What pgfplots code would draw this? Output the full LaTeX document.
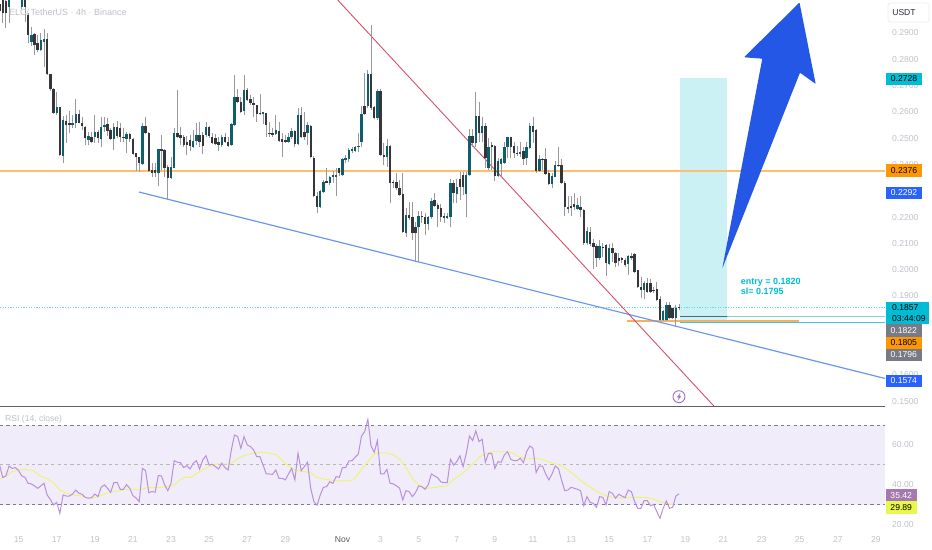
\documentclass[border=0pt]{standalone}
\usepackage{pgfplots}
\usepackage{pgfplotstable}
\usepackage{fontspec}
\setmainfont{Liberation Sans}
\pgfplotsset{compat=1.18}
\definecolor{tvup}{HTML}{0F5E6E}
\definecolor{tvdn}{HTML}{36363A}
\definecolor{tvwick}{HTML}{98989E}
\definecolor{tvgray}{HTML}{BFC1C9}
\definecolor{tvorange}{HTML}{FFBE6A}
\definecolor{tvblue}{HTML}{6A95F5}
\definecolor{tvred}{HTML}{D4506A}
\definecolor{tvbox}{HTML}{CBF1F4}
\definecolor{tvcyan}{HTML}{00BCD4}
\definecolor{tvrsi}{HTML}{B890DC}
\definecolor{tvma}{HTML}{EEF56A}
\definecolor{tvband}{HTML}{F0ECF9}
\definecolor{lineA}{HTML}{80D4D4}
\definecolor{lineB}{HTML}{4A6A80}
\definecolor{lineC}{HTML}{40C8E0}
\definecolor{lineD}{HTML}{F5B060}
\definecolor{sepc}{HTML}{5F5F66}
\definecolor{arrowc}{HTML}{2457E6}
\definecolor{headc}{HTML}{BDBFC8}
\definecolor{iconc}{HTML}{9B6FC0}
\definecolor{btnb}{HTML}{EBECEF}
\definecolor{btnt}{HTML}{2A2E39}
\definecolor{tagcy}{HTML}{00BCD4}
\definecolor{tagor}{HTML}{FF9800}
\definecolor{tagbl}{HTML}{2962FF}
\definecolor{taggr}{HTML}{787B86}
\definecolor{tagpu}{HTML}{A578AF}
\definecolor{tagye}{HTML}{E8F74A}
\pgfplotstableread{
i o h l c
0 0.3010 0.3040 0.2950 0.2985
1 0.3026 0.3050 0.2937 0.2975
2 0.3020 0.3040 0.2918 0.2975
3 0.3000 0.3050 0.2937 0.3040
4 0.3080 0.3100 0.3040 0.3060
5 0.3060 0.3090 0.3040 0.3050
6 0.3050 0.3090 0.3035 0.3070
7 0.2998 0.3060 0.2990 0.3040
8 0.3040 0.3060 0.2943 0.2999
9 0.2968 0.2975 0.2861 0.2892
10 0.2867 0.2924 0.2851 0.2892
11 0.2895 0.2900 0.2816 0.2854
12 0.2861 0.2892 0.2829 0.2835
13 0.2835 0.2899 0.2833 0.2873
14 0.2867 0.2914 0.2772 0.2876
15 0.2876 0.2899 0.2740 0.2744
16 0.2744 0.2744 0.2681 0.2686
17 0.2686 0.2690 0.2592 0.2595
18 0.2597 0.2677 0.2588 0.2617
19 0.2617 0.2620 0.2432 0.2436
20 0.2432 0.2584 0.2407 0.2569
21 0.2567 0.2588 0.2483 0.2550
22 0.2557 0.2605 0.2519 0.2550
23 0.2550 0.2588 0.2538 0.2559
24 0.2559 0.2648 0.2538 0.2591
25 0.2591 0.2607 0.2557 0.2559
26 0.2559 0.2582 0.2531 0.2546
27 0.2544 0.2546 0.2474 0.2500
28 0.2493 0.2525 0.2474 0.2508
29 0.2506 0.2525 0.2480 0.2487
30 0.2503 0.2588 0.2480 0.2522
31 0.2525 0.2531 0.2483 0.2500
32 0.2496 0.2579 0.2465 0.2541
33 0.2541 0.2579 0.2525 0.2550
34 0.2553 0.2576 0.2508 0.2529
35 0.2531 0.2538 0.2493 0.2496
36 0.2496 0.2557 0.2455 0.2544
37 0.2544 0.2567 0.2500 0.2508
38 0.2538 0.2557 0.2487 0.2506
39 0.2506 0.2538 0.2487 0.2500
40 0.2496 0.2525 0.2443 0.2516
41 0.2516 0.2519 0.2487 0.2496
42 0.2496 0.2500 0.2436 0.2440
43 0.2443 0.2445 0.2377 0.2427
44 0.2427 0.2430 0.2373 0.2405
45 0.2402 0.2557 0.2399 0.2546
46 0.2546 0.2579 0.2516 0.2519
47 0.2519 0.2522 0.2373 0.2377
48 0.2379 0.2404 0.2354 0.2369
49 0.2379 0.2405 0.2354 0.2369
50 0.2369 0.2460 0.2318 0.2458
51 0.2458 0.2512 0.2379 0.2453
52 0.2455 0.2458 0.2354 0.2385
53 0.2389 0.2398 0.2265 0.2347
54 0.2347 0.2430 0.2344 0.2389
55 0.2388 0.2538 0.2385 0.2519
56 0.2519 0.2683 0.2500 0.2503
57 0.2512 0.2544 0.2474 0.2500
58 0.2506 0.2512 0.2468 0.2474
59 0.2487 0.2508 0.2436 0.2474
60 0.2493 0.2512 0.2453 0.2470
61 0.2468 0.2531 0.2462 0.2491
62 0.2491 0.2559 0.2474 0.2512
63 0.2512 0.2563 0.2468 0.2487
64 0.2512 0.2525 0.2440 0.2470
65 0.2512 0.2563 0.2506 0.2544
66 0.2544 0.2546 0.2500 0.2508
67 0.2506 0.2519 0.2478 0.2483
68 0.2500 0.2516 0.2474 0.2478
69 0.2487 0.2506 0.2453 0.2474
70 0.2474 0.2512 0.2468 0.2503
71 0.2503 0.2521 0.2481 0.2487
72 0.2487 0.2506 0.2468 0.2470
73 0.2474 0.2559 0.2470 0.2554
74 0.2550 0.2739 0.2546 0.2655
75 0.2655 0.2686 0.2635 0.2639
76 0.2639 0.2658 0.2597 0.2601
77 0.2603 0.2740 0.2588 0.2683
78 0.2683 0.2690 0.2643 0.2645
79 0.2648 0.2664 0.2626 0.2635
80 0.2635 0.2658 0.2582 0.2626
81 0.2625 0.2628 0.2563 0.2592
82 0.2597 0.2668 0.2588 0.2591
83 0.2591 0.2601 0.2553 0.2601
84 0.2595 0.2597 0.2506 0.2550
85 0.2519 0.2563 0.2506 0.2515
86 0.2519 0.2538 0.2506 0.2512
87 0.2515 0.2588 0.2512 0.2531
88 0.2529 0.2563 0.2487 0.2491
89 0.2496 0.2521 0.2427 0.2487
90 0.2493 0.2512 0.2481 0.2487
91 0.2487 0.2521 0.2481 0.2506
92 0.2503 0.2538 0.2496 0.2529
93 0.2527 0.2531 0.2465 0.2478
94 0.2477 0.2614 0.2474 0.2588
95 0.2588 0.2617 0.2500 0.2503
96 0.2525 0.2601 0.2493 0.2503
97 0.2521 0.2563 0.2474 0.2550
98 0.2548 0.2550 0.2424 0.2427
99 0.2424 0.2432 0.2278 0.2280
100 0.2280 0.2297 0.2217 0.2240
101 0.2237 0.2303 0.2234 0.2301
102 0.2297 0.2341 0.2293 0.2335
103 0.2337 0.2385 0.2328 0.2331
104 0.2328 0.2356 0.2322 0.2354
105 0.2354 0.2377 0.2328 0.2360
106 0.2354 0.2385 0.2280 0.2360
107 0.2385 0.2385 0.2356 0.2366
108 0.2360 0.2424 0.2356 0.2420
109 0.2417 0.2436 0.2407 0.2424
110 0.2420 0.2464 0.2411 0.2455
111 0.2453 0.2468 0.2445 0.2458
112 0.2453 0.2470 0.2449 0.2468
113 0.2465 0.2519 0.2449 0.2470
114 0.2487 0.2622 0.2465 0.2592
115 0.2622 0.2747 0.2588 0.2591
116 0.2622 0.2759 0.2614 0.2743
117 0.2744 0.2930 0.2607 0.2614
118 0.2620 0.2622 0.2572 0.2576
119 0.2576 0.2686 0.2569 0.2681
120 0.2681 0.2686 0.2432 0.2436
121 0.2436 0.2483 0.2398 0.2427
122 0.2427 0.2496 0.2392 0.2470
123 0.2470 0.2473 0.2255 0.2331
124 0.2332 0.2341 0.2309 0.2328
125 0.2332 0.2369 0.2303 0.2309
126 0.2309 0.2341 0.2280 0.2284
127 0.2288 0.2366 0.2141 0.2145
128 0.2138 0.2233 0.2126 0.2208
129 0.2208 0.2259 0.2189 0.2198
130 0.2202 0.2259 0.2113 0.2141
131 0.2164 0.2183 0.2031 0.2138
132 0.2161 0.2225 0.2031 0.2204
133 0.2204 0.2225 0.2176 0.2199
134 0.2202 0.2214 0.2132 0.2174
135 0.2174 0.2204 0.2151 0.2202
136 0.2199 0.2272 0.2194 0.2263
137 0.2265 0.2290 0.2240 0.2242
138 0.2246 0.2252 0.2164 0.2231
139 0.2236 0.2249 0.2183 0.2202
140 0.2204 0.2214 0.2176 0.2195
141 0.2195 0.2214 0.2192 0.2204
142 0.2199 0.2344 0.2161 0.2328
143 0.2328 0.2341 0.2252 0.2290
144 0.2288 0.2344 0.2255 0.2313
145 0.2344 0.2373 0.2265 0.2316
146 0.2360 0.2373 0.2284 0.2316
147 0.2288 0.2373 0.2202 0.2360
148 0.2360 0.2534 0.2356 0.2508
149 0.2508 0.2534 0.2465 0.2483
150 0.2483 0.2677 0.2468 0.2584
151 0.2584 0.2639 0.2487 0.2521
152 0.2521 0.2582 0.2487 0.2546
153 0.2546 0.2559 0.2385 0.2423
154 0.2385 0.2500 0.2379 0.2468
155 0.2474 0.2487 0.2379 0.2465
156 0.2470 0.2474 0.2339 0.2356
157 0.2356 0.2424 0.2351 0.2415
158 0.2402 0.2424 0.2356 0.2420
159 0.2405 0.2487 0.2402 0.2468
160 0.2465 0.2506 0.2423 0.2503
161 0.2503 0.2506 0.2423 0.2465
162 0.2470 0.2487 0.2423 0.2443
163 0.2445 0.2470 0.2432 0.2440
164 0.2440 0.2487 0.2430 0.2449
165 0.2451 0.2468 0.2398 0.2420
166 0.2423 0.2487 0.2398 0.2465
167 0.2462 0.2557 0.2458 0.2546
168 0.2546 0.2579 0.2481 0.2525
169 0.2531 0.2534 0.2369 0.2377
170 0.2377 0.2436 0.2373 0.2421
171 0.2421 0.2424 0.2379 0.2417
172 0.2421 0.2461 0.2360 0.2364
173 0.2366 0.2379 0.2322 0.2326
174 0.2326 0.2366 0.2309 0.2356
175 0.2354 0.2415 0.2351 0.2398
176 0.2398 0.2468 0.2392 0.2394
177 0.2398 0.2420 0.2326 0.2331
178 0.2331 0.2339 0.2204 0.2237
179 0.2232 0.2280 0.2214 0.2240
180 0.2244 0.2280 0.2204 0.2233
181 0.2249 0.2290 0.2227 0.2240
182 0.2231 0.2271 0.2227 0.2246
183 0.2237 0.2280 0.2202 0.2227
184 0.2227 0.2230 0.2094 0.2103
185 0.2100 0.2164 0.2094 0.2147
186 0.2145 0.2161 0.2090 0.2098
187 0.2100 0.2116 0.2001 0.2085
188 0.2090 0.2098 0.2012 0.2043
189 0.2043 0.2113 0.2037 0.2090
190 0.2087 0.2100 0.2050 0.2081
191 0.2093 0.2098 0.1976 0.2024
192 0.2022 0.2098 0.2018 0.2081
193 0.2081 0.2100 0.2031 0.2065
194 0.2065 0.2069 0.2012 0.2024
195 0.2043 0.2062 0.2014 0.2034
196 0.2043 0.2050 0.2024 0.2037
197 0.2037 0.2043 0.2012 0.2018
198 0.2022 0.2056 0.1980 0.2052
199 0.2053 0.2062 0.2037 0.2043
200 0.2060 0.2062 0.1989 0.1993
201 0.1999 0.2000 0.1929 0.1936
202 0.1936 0.1974 0.1891 0.1923
203 0.1923 0.1958 0.1887 0.1948
204 0.1951 0.1967 0.1913 0.1917
205 0.1951 0.1964 0.1913 0.1917
206 0.1923 0.1936 0.1913 0.1920
207 0.1925 0.1955 0.1882 0.1885
208 0.1887 0.1900 0.1806 0.1809
209 0.1809 0.1847 0.1806 0.1844
210 0.1809 0.1879 0.1803 0.1866
211 0.1866 0.1879 0.1811 0.1815
212 0.1853 0.1853 0.1814 0.1815
213 0.1815 0.1866 0.1783 0.1853
214 0.1860 0.1870 0.1847 0.1857
}\candles
\pgfplotstableread{
r
49.9
43.7
44.4
49.4
48.2
48.6
47.1
44.4
43.7
40.7
40.4
39.4
38.2
39.4
40.7
34.8
32.6
29.8
31.1
25.6
34.8
34.3
34.3
35.3
37.3
35.7
35.2
33.6
33.2
33.5
35.3
34.0
38.7
39.9
38.2
36.2
41.0
41.2
37.7
37.7
40.0
38.2
34.5
33.3
31.5
48.2
47.1
36.0
36.5
36.2
44.6
44.4
39.9
37.0
40.7
52.1
51.3
51.1
48.6
49.6
47.9
50.8
52.1
47.9
52.4
54.6
49.9
50.3
49.1
47.9
50.8
48.6
47.4
57.5
65.0
64.2
58.3
64.2
60.0
59.2
57.5
54.1
54.1
49.9
45.4
45.4
45.2
47.4
43.2
43.2
42.4
45.4
48.2
42.4
55.8
47.1
49.1
51.3
38.2
31.5
29.6
34.8
38.7
39.0
41.5
40.7
44.1
43.7
48.6
48.6
51.9
52.1
53.8
55.5
64.5
66.7
72.9
59.5
56.3
62.2
45.4
45.4
47.7
40.7
40.4
39.4
38.2
32.3
37.0
36.5
34.0
36.0
39.4
39.0
37.7
39.9
45.4
44.4
43.5
41.4
41.0
41.0
52.8
49.9
51.6
54.5
49.1
55.8
64.5
62.2
67.1
61.7
62.9
51.3
55.8
55.8
48.2
51.6
51.3
55.0
56.6
52.8
52.1
52.1
53.3
51.1
56.6
59.5
58.3
46.1
49.4
49.4
45.4
42.4
45.4
49.4
48.2
42.4
37.0
37.3
38.7
38.2
37.7
37.0
29.4
34.0
31.1
30.6
28.6
34.0
33.6
29.8
36.5
35.7
33.2
35.2
34.3
33.5
37.3
36.5
31.5
28.1
28.1
32.0
32.0
29.4
30.1
26.4
23.1
28.1
31.8
28.1
28.6
34.3
35.4
}\rsitable
\pgfplotstableread{
i m
0.14 42.9
2.2 44.4
4.3 46.9
6.4 47.6
8.5 47.7
10.6 47.1
12.7 44.4
14.8 43.2
17 41.0
19 37.3
21.1 35.7
23.2 34.8
25.3 34.5
27.4 33.5
29.5 33.2
31.6 34.5
33.7 35.7
35.8 36.5
37.9 37.0
40 37.7
42.1 37.7
44.2 37.3
46.3 38.5
48.4 38.5
50.5 38.5
52.6 39.0
54.7 39.4
56.8 42.4
58.4 43.7
60.5 43.7
62.1 45.7
64.2 47.7
66.3 49.4
68.4 50.4
70.5 50.4
72.6 50.4
74.7 52.8
76.8 54.5
78.9 55.5
81 56.1
83.1 56.3
85.2 55.8
87.3 55.0
89.4 51.6
91.5 48.8
93.6 47.1
95.7 46.6
97.8 46.2
99.9 43.7
102 42.9
104.1 42.4
106.2 41.9
109.3 41.9
111.4 42.4
113.5 46.6
115.6 50.8
117.7 55.0
119.8 56.1
121.9 56.1
124 55.0
126.1 52.8
128.2 48.3
130.3 42.4
132.4 39.4
134.5 38.2
136.6 38.5
138.7 39.0
140.8 39.5
142.9 42.4
145 44.9
147.1 47.4
149.2 50.8
151.3 54.1
153.4 55.8
155.5 56.6
157.6 56.6
159.7 56.6
161.8 55.8
163.9 53.8
166 52.9
168.1 53.3
170.2 53.1
172.3 51.9
174.4 50.8
176.5 49.9
178.6 47.9
180.7 45.4
182.8 42.4
184.9 39.9
187 37.8
189.1 35.7
191.2 34.3
193.3 33.6
195.4 33.2
197.5 33.5
199.6 33.6
201.7 33.6
203.8 33.5
205.9 32.8
208 31.5
210.1 30.6
212.2 29.9
}\matable
\newcommand\pricetag[7]{%
  \fill[#5] (#1,#2) rectangle (#3,#4);
  \node[text=#6,font=\fontsize{8.6bp}{9bp}\selectfont,inner sep=0pt,anchor=center] at ({(#1+#3)/2},{(#2+#4)/2}) {#7};}
\begin{document}
\begin{tikzpicture}
\path[use as bounding box] (0,0) rectangle (932bp,550bp);
% ---- price pane ----
\begin{axis}[
  at={(0bp,144bp)},anchor=south west,scale only axis,width=885bp,height=406bp,
  xmin=0.142,xmax=278.87,ymin=0.14817,ymax=0.30255,
  axis line style={draw=none},major tick length=0pt,
  xtick=\empty,
  ytick={0.15,0.16,0.19,0.20,0.21,0.22,0.24,0.25,0.26,0.27,0.28,0.29},
  yticklabel pos=right,
  y tick label style={text=tvgray,font=\fontsize{8.6bp}{9bp}\selectfont,anchor=west,inner sep=0pt,xshift=7bp,
    /pgf/number format/.cd,fixed,fixed zerofill,precision=4,assume math mode=true},
]
% long position box
\addplot[fill=tvbox,draw=none,forget plot] coordinates {(214.3,0.1796)(229.1,0.1796)(229.1,0.2728)(214.3,0.2728)} -- cycle;
% horizontal levels
\addplot[tvorange,line width=2bp,forget plot] coordinates {(0.142,0.2376)(278.87,0.2376)};
\addplot[tvcyan!60,dash pattern=on 1.2bp off 1.4bp,line width=0.9bp,forget plot] coordinates {(0.142,0.1857)(278.87,0.1857)};
\addplot[lineA,line width=1.2bp,forget plot] coordinates {(214.3,0.1822)(278.87,0.1822)};
\addplot[lineB,line width=1.2bp,forget plot] coordinates {(214.3,0.1822)(229.1,0.1822)};
\addplot[lineC,line width=1.4bp,forget plot] coordinates {(214.3,0.1799)(278.87,0.1799)};
\addplot[lineD,line width=2bp,forget plot] coordinates {(197.6,0.1805)(251.8,0.1805)};
% trend lines
\addplot[tvblue,line width=1.2bp,forget plot] coordinates {(43.9,0.22954)(278.87,0.15863)};
\addplot[tvred,line width=0.9bp,forget plot] coordinates {(106.5,0.30255)(224.96,0.14817)};
% candles: wicks, then up and down bodies
\addplot[draw=none,no marks,forget plot,error bars/.cd,y dir=plus,y explicit,error mark=none,
  error bar style={draw=tvwick,line width=0.8bp}]
  table[x=i,y=l,y error expr={\thisrow{h}-\thisrow{l}}] {\candles};
\addplot[draw=none,no marks,forget plot,error bars/.cd,y dir=plus,y explicit,error mark=none,
  error bar style={draw=tvup,line width=2.4bp}]
  table[x=i,y=o,y error expr={max(\thisrow{c}-\thisrow{o},0)}] {\candles};
\addplot[draw=none,no marks,forget plot,error bars/.cd,y dir=plus,y explicit,error mark=none,
  error bar style={draw=tvdn,line width=2.4bp}]
  table[x=i,y=c,y error expr={max(\thisrow{o}-\thisrow{c},0)}] {\candles};
\end{axis}
% ---- RSI pane ----
\begin{axis}[
  at={(0bp,20bp)},anchor=south west,scale only axis,width=885bp,height=123bp,
  xmin=0.142,xmax=278.87,ymin=17.2,ymax=79.1,
  axis line style={draw=none},major tick length=0pt,
  xtick={6,18,30,42,54,66,78,90,108,120,132,144,156,168,180,192,204,216,228,240,252,264,276},
  xticklabels={15,17,19,21,23,25,27,29,\textcolor{black!65}{Nov},3,5,7,9,11,13,15,17,19,21,23,25,27,29},
  x tick label style={text=tvgray,font=\fontsize{8.6bp}{9bp}\selectfont,inner sep=0pt,anchor=center,yshift=-9.5bp,
    /pgf/number format/assume math mode=true},
  ytick={20,40,60},
  yticklabel pos=right,
  y tick label style={text=tvgray,font=\fontsize{8.6bp}{9bp}\selectfont,anchor=west,inner sep=0pt,xshift=7bp,
    /pgf/number format/.cd,fixed,fixed zerofill,precision=2,assume math mode=true},
]
\addplot[fill=tvband,draw=none,forget plot] coordinates {(0.142,30)(278.87,30)(278.87,70)(0.142,70)} -- cycle;
\addplot[black!50,dash pattern=on 3.2bp off 3.2bp,line width=0.7bp,forget plot] coordinates {(0.142,70)(278.87,70)};
\addplot[black!28,dash pattern=on 3.2bp off 3.2bp,line width=0.7bp,forget plot] coordinates {(0.142,50)(278.87,50)};
\addplot[black!50,dash pattern=on 3.2bp off 3.2bp,line width=0.7bp,forget plot] coordinates {(0.142,30)(278.87,30)};
\addplot[tvma,line width=0.9bp,forget plot] table[x=i,y=m] {\matable};
\addplot[tvrsi,line width=1bp,forget plot] table[x expr=\coordindex,y=r] {\rsitable};
\end{axis}
% ---- annotations, in pixel units of the screenshot ----
\begin{scope}[x=1bp,y=-1bp,yshift=550bp]
\draw[sepc,line width=1.5bp] (0,406.3) -- (885,406.3);
\fill[arrowc,rounded corners=0.8bp] (799.5,2.5) -- (744,57.3) -- (762.3,58.7) -- (722.3,268.3) -- (800,72.7) -- (815.7,84) -- cycle;
\node[anchor=west,inner sep=0pt,text=headc,font=\fontsize{9bp}{10bp}\selectfont] at (9,12.5) {ELC/\,TetherUS · 4h · Binance};
\node[anchor=west,inner sep=0pt,text=headc,font=\fontsize{8.6bp}{10bp}\selectfont] at (5,419) {RSI (14, close)};
\node[anchor=west,inner sep=0pt,text=tvcyan,font=\fontsize{9bp}{10bp}\selectfont\bfseries] at (740.7,282) {entry = 0.1820};
\node[anchor=west,inner sep=0pt,text=tvcyan,font=\fontsize{9bp}{10bp}\selectfont\bfseries] at (740.7,291) {sl= 0.1795};
\draw[iconc,line width=0.9bp] (679,396.7) circle[radius=6];
\fill[iconc] (680.5,392.7) -- (676.8,397.4) -- (678.8,397.4) -- (677.6,400.7) -- (681.3,396) -- (679.3,396) -- cycle;
\draw[btnb,line width=0.8bp,fill=white,rounded corners=2.5bp] (888,3) rectangle (929,22);
\node[text=btnt,font=\fontsize{8.6bp}{9bp}\selectfont,inner sep=0pt] at (904,12.5) {USDT};
\pricetag{886}{72.7}{922}{84.7}{tagcy}{black}{0.2728}
\pricetag{886}{164.5}{922}{177}{tagor}{black}{0.2376}
\pricetag{886}{186.7}{922}{199.3}{tagbl}{white}{0.2292}
\fill[tagcy] (886,301.7) rectangle (928.7,324.2);
\node[text=black,font=\fontsize{8.6bp}{9bp}\selectfont,inner sep=0pt,anchor=west] at (892,307.5) {0.1857};
\node[text=black,font=\fontsize{8.6bp}{9bp}\selectfont,inner sep=0pt,anchor=west] at (892,318.3) {03:44:09};
\pricetag{886}{324.2}{921.7}{336.7}{taggr}{white}{0.1822}
\pricetag{886}{336.7}{921.7}{349}{tagor}{black}{0.1805}
\pricetag{886}{349}{921.7}{361}{taggr}{white}{0.1796}
\pricetag{886}{375}{921.7}{387}{tagbl}{white}{0.1574}
\pricetag{886}{489.3}{916.5}{501}{tagpu}{white}{35.42}
\pricetag{886}{501}{916.5}{514}{tagye}{black}{29.89}
\end{scope}
\end{tikzpicture}
\end{document}
